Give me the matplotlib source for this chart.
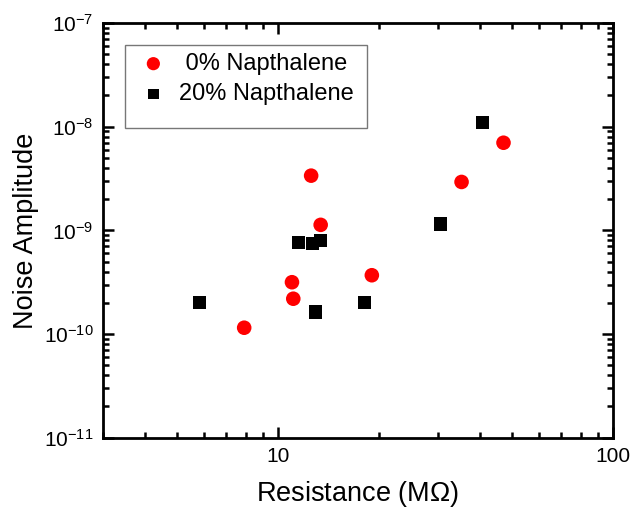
import matplotlib
matplotlib.use("Agg")
import matplotlib.pyplot as plt
from matplotlib.patches import Rectangle
from matplotlib.ticker import LogLocator, NullFormatter, FixedLocator, FixedFormatter

plt.rcParams['font.family'] = ['Liberation Sans', 'DejaVu Sans']
plt.rcParams['mathtext.fontset'] = 'custom'
plt.rcParams['mathtext.rm'] = 'Liberation Sans'
plt.rcParams['mathtext.it'] = 'Liberation Sans:italic'

# 0% Napthalene
r0 = [7.92, 11.0, 11.1, 12.55, 13.4, 19.05, 35.3, 47.1]
n0 = [1.15e-10, 3.16e-10, 2.19e-10, 3.37e-9, 1.13e-9, 3.69e-10, 2.93e-9, 7.0e-9]
# 20% Napthalene
r20 = [5.81, 12.9, 11.48, 12.69, 13.41, 18.1, 30.5, 40.8]
n20 = [2.01e-10, 1.63e-10, 7.57e-10, 7.52e-10, 7.96e-10, 2.01e-10, 1.15e-9, 1.09e-8]

xticks = [10, 100]
xticklabels = ['10', '100']
yticks = [1e-11, 1e-10, 1e-9, 1e-8, 1e-7]
yticklabels = [r'$\mathregular{10^{-11}}$', r'$\mathregular{10^{-10}}$', r'$\mathregular{10^{-9}}$',
               r'$\mathregular{10^{-8}}$', r'$\mathregular{10^{-7}}$']

fig = plt.figure(figsize=(6.31, 5.08), dpi=100)
ax = fig.add_axes([0.1632, 0.1384, 0.8083, 0.8163])

ax.scatter(r0, n0, s=10.5**2, marker='o', color='#ff0000', edgecolors='none',
           label=' 0% Napthalene', zorder=3)
ax.scatter(r20, n20, s=9.5**2, marker='s', color='black', edgecolors='none',
           label='20% Napthalene', zorder=3)

ax.set_xscale('log')
ax.set_yscale('log')
ax.set_xlim(3, 100)
ax.set_ylim(1e-11, 1e-7)

ax.xaxis.set_major_locator(FixedLocator(xticks))
ax.xaxis.set_major_formatter(FixedFormatter(xticklabels))
ax.xaxis.set_minor_locator(LogLocator(base=10, subs=range(2, 10), numticks=20))
ax.xaxis.set_minor_formatter(NullFormatter())
ax.yaxis.set_major_locator(FixedLocator(yticks))
ax.yaxis.set_major_formatter(FixedFormatter(yticklabels))
ax.yaxis.set_minor_locator(LogLocator(base=10, subs=range(2, 10), numticks=20))
ax.yaxis.set_minor_formatter(NullFormatter())

ax.tick_params(which='both', direction='in', top=True, right=True, labelsize=15, width=1.8, pad=7)
ax.tick_params(which='major', length=8)
ax.tick_params(which='minor', length=4.5)
for sp in ax.spines.values():
    sp.set_linewidth(2)

ax.set_xlabel('Resistance (M$\\Omega$)', fontsize=19.5, labelpad=9)
ax.set_ylabel('Noise Amplitude', fontsize=19.5, labelpad=3)

# legend frame
ax.add_patch(Rectangle((0.043, 0.747), 0.475, 0.2, transform=ax.transAxes,
                       facecolor='white', edgecolor='#777777', linewidth=1.0, zorder=4))
leg = ax.legend(loc='upper left', bbox_to_anchor=(0.071, 0.928), borderaxespad=0,
                fontsize=17, frameon=False, handletextpad=0.5,
                borderpad=0, labelspacing=0.36, handlelength=1.2)
leg.set_zorder(5)
leg.legend_handles[0].set_sizes([9.5**2])
leg.legend_handles[1].set_sizes([7.5**2])

fig.savefig('out.png', dpi=100)
